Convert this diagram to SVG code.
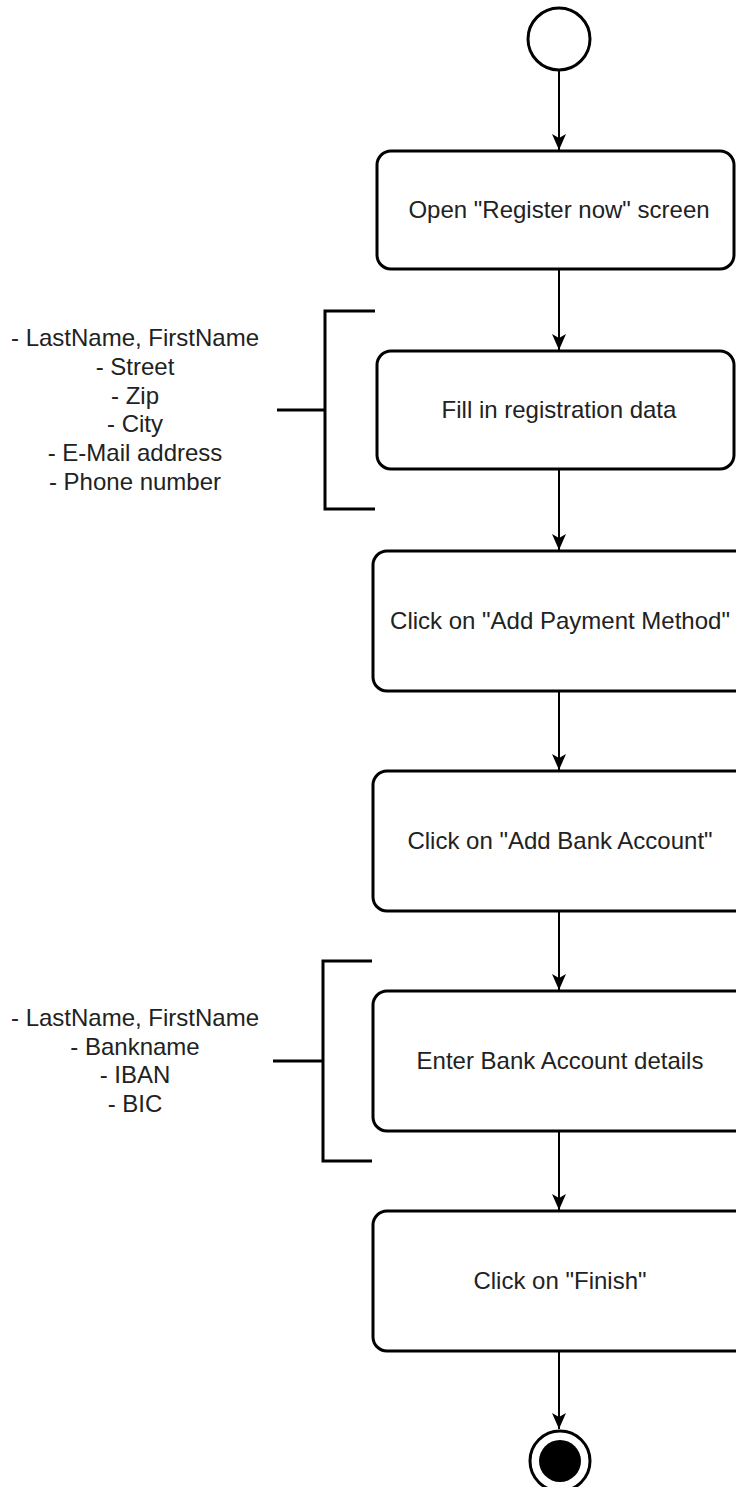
<svg xmlns="http://www.w3.org/2000/svg" width="736" height="1487" viewBox="0 0 736 1487">
  <style>
    .act { fill: #ffffff; stroke: #000000; stroke-width: 3; }
    .lbl { font-family: "Liberation Sans", Arial, sans-serif; font-size: 24px; fill: #222222; text-anchor: middle; }
    .flow { fill: none; stroke: #000000; stroke-width: 2; marker-end: url(#arrow); }
    .brace { fill: none; stroke: #000000; stroke-width: 3; }
  </style>
  <defs>
    <marker id="arrow" viewBox="0 0 16 16" refX="16" refY="8" markerWidth="16" markerHeight="16" markerUnits="userSpaceOnUse" orient="auto">
      <path d="M0,1 L16,8 L0,15 L4,8 Z" fill="#000000"/>
    </marker>
  </defs>
  <rect width="736" height="1487" fill="#ffffff"/>

  <!-- connectors -->
  <g id="connectors">
    <line class="flow" x1="559" y1="70" x2="559" y2="150"/>
    <line class="flow" x1="559" y1="270" x2="559" y2="350"/>
    <line class="flow" x1="559" y1="470" x2="559" y2="550"/>
    <line class="flow" x1="559" y1="692" x2="559" y2="770"/>
    <line class="flow" x1="559" y1="912" x2="559" y2="990"/>
    <line class="flow" x1="559" y1="1132" x2="559" y2="1210"/>
    <line class="flow" x1="559" y1="1352" x2="559" y2="1429"/>
  </g>

  <!-- initial node -->
  <g id="start">
    <circle cx="559" cy="39" r="31" fill="#ffffff" stroke="#000000" stroke-width="3"/>
  </g>

  <g id="open-register">
    <rect class="act" x="377" y="151" width="357" height="118" rx="14"/>
    <text class="lbl" x="559" y="218">Open "Register now" screen</text>
  </g>

  <g id="fill-registration">
    <rect class="act" x="377" y="351" width="357" height="118" rx="14"/>
    <text class="lbl" x="559" y="418">Fill in registration data</text>
  </g>

  <g id="add-payment">
    <rect class="act" x="373" y="551" width="380" height="140" rx="14"/>
    <text class="lbl" x="560" y="629">Click on "Add Payment Method"</text>
  </g>

  <g id="add-bank">
    <rect class="act" x="373" y="771" width="380" height="140" rx="14"/>
    <text class="lbl" x="560" y="849">Click on "Add Bank Account"</text>
  </g>

  <g id="bank-details">
    <rect class="act" x="373" y="991" width="380" height="140" rx="14"/>
    <text class="lbl" x="560" y="1069">Enter Bank Account details</text>
  </g>

  <g id="finish">
    <rect class="act" x="373" y="1211" width="380" height="140" rx="14"/>
    <text class="lbl" x="560" y="1289">Click on "Finish"</text>
  </g>

  <!-- final node -->
  <g id="end">
    <circle cx="560" cy="1461" r="30" fill="#ffffff" stroke="#000000" stroke-width="3"/>
    <circle cx="560" cy="1461" r="21" fill="#000000"/>
  </g>

  <!-- annotation: registration fields -->
  <g id="note-registration">
    <path class="brace" d="M375,311 H325 V509 H375 M277,410 H325"/>
    <text class="lbl" x="135" y="346">- LastName, FirstName</text>
    <text class="lbl" x="135" y="375">- Street</text>
    <text class="lbl" x="135" y="404">- Zip</text>
    <text class="lbl" x="135" y="432">- City</text>
    <text class="lbl" x="135" y="461">- E-Mail address</text>
    <text class="lbl" x="135" y="490">- Phone number</text>
  </g>

  <!-- annotation: bank account fields -->
  <g id="note-bank">
    <path class="brace" d="M372,961 H323 V1161 H372 M273,1061 H323"/>
    <text class="lbl" x="135" y="1026">- LastName, FirstName</text>
    <text class="lbl" x="135" y="1055">- Bankname</text>
    <text class="lbl" x="135" y="1083">- IBAN</text>
    <text class="lbl" x="135" y="1112">- BIC</text>
  </g>
</svg>
